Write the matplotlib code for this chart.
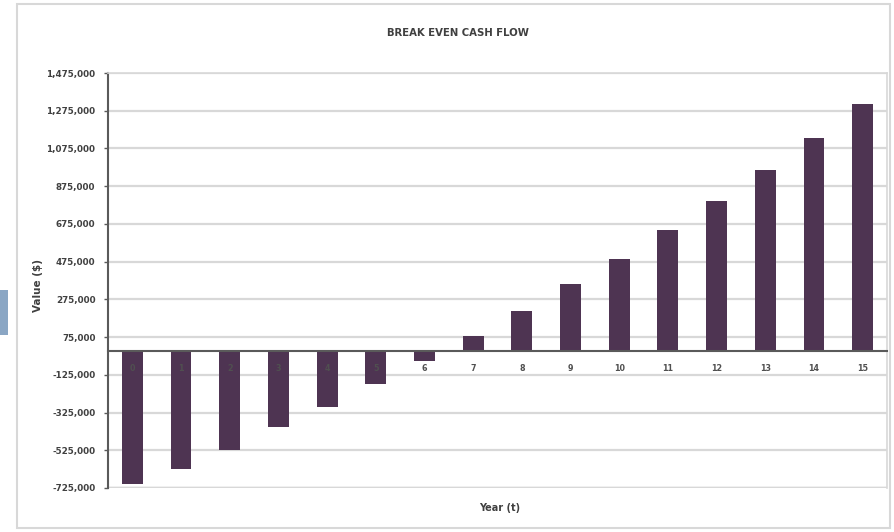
import matplotlib.pyplot as plt
from matplotlib.patches import Rectangle
from matplotlib.ticker import FuncFormatter

# Break-even cash flow by year
years = list(range(16))
cash_flow = [-703000, -623000, -523000, -400000, -294000, -172000, -50000,
             82000, 215000, 358000, 491000, 645000, 798000, 963000,
             1133000, 1313000]
y_ticks = [-725000, -525000, -325000, -125000, 75000, 275000, 475000,
           675000, 875000, 1075000, 1275000, 1475000]

fig = plt.figure(figsize=(8.94, 5.32), dpi=100)
fig.patch.set_facecolor('white')

# outer chart frame and the strip of slide background on the left
fig.patches.append(Rectangle((17 / 894, 4 / 532), 873 / 894, 524 / 532,
                             transform=fig.transFigure, fill=False,
                             edgecolor='#d8d8d8', linewidth=1.5))
fig.patches.append(Rectangle((0, 1 - 335 / 532), 8 / 894, 45 / 532,
                             transform=fig.transFigure, color='#8aa6c4', linewidth=0))

ax = fig.add_axes([108 / 894, 1 - 488 / 532, 779 / 894, 415 / 532])

ax.bar(years, cash_flow, width=0.43, color='#4e3452', zorder=1)

ax.set_xlim(-0.5, 15.5)
ax.set_ylim(-725000, 1475000)
ax.set_yticks(y_ticks)
ax.yaxis.set_major_formatter(FuncFormatter(lambda v, p: f'{v:,.0f}'))
ax.set_xticks(years)
ax.set_xticklabels([str(y) for y in years])

# gridlines behind the bars, category labels sit on the zero line
ax.yaxis.set_zorder(0.5)
ax.xaxis.set_zorder(1.5)
ax.grid(axis='y', color='#d8d8d8', linewidth=1.6)

ax.spines['bottom'].set_position(('data', 0))
ax.spines['bottom'].set_color('#5a5a5a')
ax.spines['bottom'].set_linewidth(1.5)
ax.spines['left'].set_color('#5a5a5a')
ax.spines['left'].set_linewidth(1.5)
for side in ['top', 'right']:
    ax.spines[side].set_color('#d8d8d8')
    ax.spines[side].set_linewidth(1.2)
ax.axhline(-725000, color='#d0d0d0', linewidth=2.5, zorder=0.4)

ax.tick_params(axis='y', length=3, width=1, color='#5a5a5a', labelsize=6.3,
               labelcolor='#404040', pad=6)
ax.tick_params(axis='x', length=0, labelsize=5.8, labelcolor='#505050', pad=9)
for lbl in ax.get_yticklabels() + ax.get_xticklabels():
    lbl.set_fontweight('bold')

fig.text(458 / 894, 1 - 33 / 532, 'BREAK EVEN CASH FLOW', ha='center', va='center',
         fontsize=7.3, fontweight='bold', color='#404040')
fig.text(500 / 894, 1 - 508 / 532, 'Year (t)', ha='center', va='center',
         fontsize=7, fontweight='bold', color='#404040')
fig.text(38 / 894, 1 - 285 / 532, 'Value ($)', ha='center', va='center',
         rotation=90, fontsize=7.5, fontweight='bold', color='#404040')

fig.savefig('out.png', dpi=100)
